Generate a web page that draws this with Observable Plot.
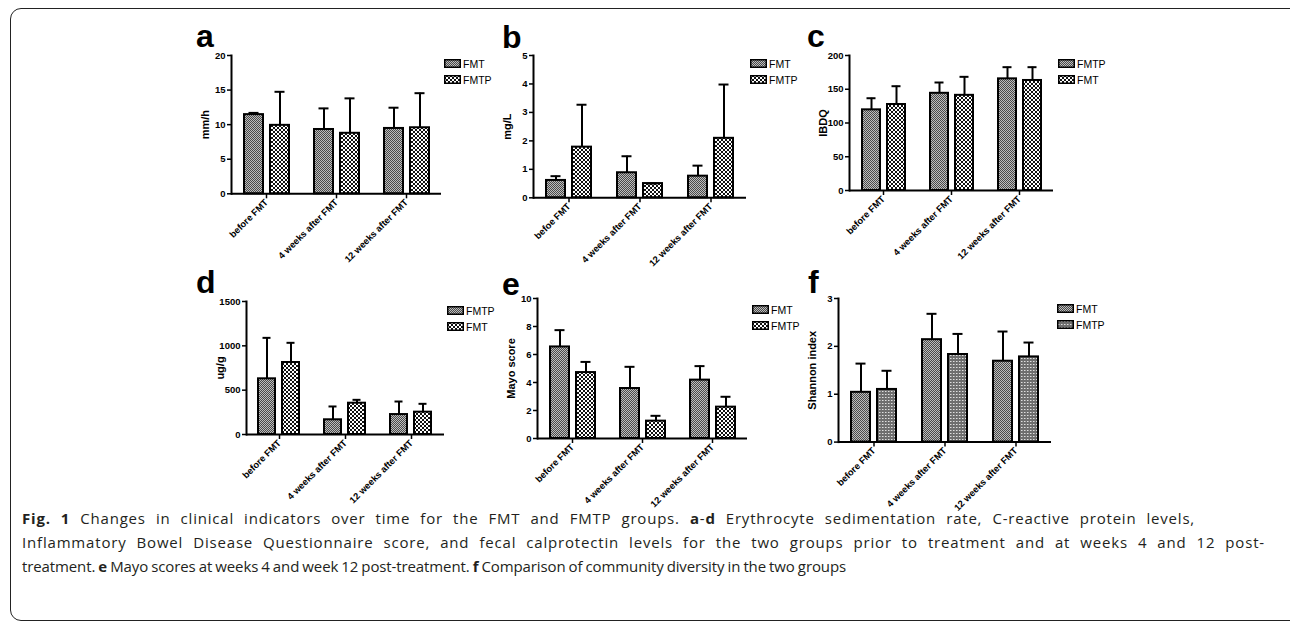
<!DOCTYPE html>
<html><head><meta charset="utf-8">
<script src="https://cdn.jsdelivr.net/npm/d3@7"></script>
<script src="https://cdn.jsdelivr.net/npm/@observablehq/plot@0.6"></script>
<style>
html,body{margin:0;padding:0;background:#fff;}
body{width:1290px;height:622px;overflow:hidden;position:relative;font-family:"Liberation Sans",Arial,sans-serif;}
#frame{position:absolute;left:10px;top:8px;width:1300px;height:613px;border:1.5px solid #222;border-radius:11px;box-sizing:border-box;}
.panel{position:absolute;}
.letter{position:absolute;font:bold 32px "Liberation Sans",Arial,sans-serif;line-height:32px;color:#000;}
.lrow{position:absolute;display:flex;align-items:center;height:9px;font:10.5px "Liberation Sans",Arial,sans-serif;color:#000;white-space:nowrap;}
.lrow svg{margin-right:2px;flex:none;}
#caption{position:absolute;left:22px;top:506px;font-family:"Open Sans",sans-serif;font-size:15px;line-height:24px;color:#231f20;white-space:nowrap;}
#caption div{display:inline-block;}
#caption b{font-weight:700;}
</style></head><body>
<svg width="0" height="0" style="position:absolute">
<defs>
<pattern id="pGray" width="2" height="2" patternUnits="userSpaceOnUse"><rect width="2" height="2" fill="#bdbdbd"/><rect width="1" height="1" fill="#4a4a4a"/><rect x="1" y="1" width="1" height="1" fill="#4a4a4a"/></pattern>
<pattern id="pCheck" width="4" height="4" patternUnits="userSpaceOnUse"><rect width="4" height="4" fill="#111"/><rect width="2" height="2" fill="#fff"/><rect x="2" y="2" width="2" height="2" fill="#fff"/></pattern>
<pattern id="pDot" width="3" height="3" patternUnits="userSpaceOnUse"><rect width="3" height="3" fill="#6e6e6e"/><rect x="1" y="1" width="1.5" height="1" fill="#e0e0e0"/></pattern>
</defs></svg>
<div id="frame"></div>
<div id="root"></div>
<div id="caption">
<div class="cl" data-w="1173"><b>Fig. 1</b> Changes in clinical indicators over time for the FMT and FMTP groups. <b>a</b>-<b>d</b> Erythrocyte sedimentation rate, C-reactive protein levels,</div><br>
<div class="cl" data-w="1243">Inflammatory Bowel Disease Questionnaire score, and fecal calprotectin levels for the two groups prior to treatment and at weeks 4 and 12 post-</div><br>
<div class="cl" data-w="824">treatment. <b>e</b> Mayo scores at weeks 4 and week 12 post-treatment. <b>f</b> Comparison of community diversity in the two groups</div>
</div>
<script>
// ---- data ----
const groups = ["before FMT", "4 weeks after FMT", "12 weeks after FMT"];
const groupsB = ["befoe FMT", "4 weeks after FMT", "12 weeks after FMT"];

// a: ESR (mm/h)
const aSeries = ["FMT", "FMTP"];
const aFMT = [11.45, 9.3, 9.45];
const aFMTsd = [0.25, 3.05, 3.0];
const aFMTP = [9.9, 8.75, 9.55];
const aFMTPsd = [4.85, 5.05, 5.0];
const aTicks = [0, 5, 10, 15, 20];

// b: CRP (mg/L)
const bSeries = ["FMT", "FMTP"];
const bFMT = [0.61, 0.88, 0.76];
const bFMTsd = [0.15, 0.58, 0.37];
const bFMTP = [1.78, 0.5, 2.09];
const bFMTPsd = [1.49, 0, 1.89];
const bTicks = [0, 1, 2, 3, 4, 5];

// c: IBDQ
const cSeries = ["FMTP", "FMT"];
const cFMTP = [119.5, 144, 165.4];
const cFMTPsd = [17.2, 16, 17.3];
const cFMT = [127.4, 141, 163];
const cFMTsd = [27.1, 27.4, 19.7];
const cTicks = [0, 50, 100, 150, 200];

// d: fecal calprotectin (ug/g)
const dSeries = ["FMTP", "FMT"];
const dFMTP = [628, 166, 225];
const dFMTPsd = [462, 150, 147];
const dFMT = [812, 353, 252];
const dFMTsd = [222, 38, 94];
const dTicks = [0, 500, 1000, 1500];

// e: Mayo score
const eSeries = ["FMT", "FMTP"];
const eFMT = [6.54, 3.57, 4.17];
const eFMTsd = [1.2, 1.55, 1.0];
const eFMTP = [4.71, 1.24, 2.24];
const eFMTPsd = [0.76, 0.38, 0.74];
const eTicks = [0, 2, 4, 6, 8, 10];

// f: Shannon index
const fSeries = ["FMT", "FMTP"];
const fFMT = [1.04, 2.14, 1.69];
const fFMTsd = [0.6, 0.54, 0.62];
const fFMTP = [1.10, 1.83, 1.78];
const fFMTPsd = [0.39, 0.43, 0.30];
const fTicks = [0, 1, 2, 3];

// ---- layout / styling ----
const panels = [
  {letter:"a", groups, series:aSeries, means:[aFMT,aFMTP], sds:[aFMTsd,aFMTPsd], fills:["url(#pGray)","url(#pCheck)"], ylabel:"mm/h", ticks:aTicks, x0:231, yTop:55, yBot:193.3, w:210, lx:197, ly:47, gx:444, gy:59},
  {letter:"b", groups:groupsB, series:bSeries, means:[bFMT,bFMTP], sds:[bFMTsd,bFMTPsd], fills:["url(#pGray)","url(#pCheck)"], ylabel:"mg/L", ticks:bTicks, x0:533, yTop:55, yBot:197.3, w:213, lx:503, ly:48, gx:750, gy:59},
  {letter:"c", groups, series:cSeries, means:[cFMTP,cFMT], sds:[cFMTPsd,cFMTsd], fills:["url(#pGray)","url(#pCheck)"], ylabel:"IBDQ", ticks:cTicks, x0:849, yTop:55, yBot:190, w:204, lx:808, ly:47, gx:1058, gy:59},
  {letter:"d", groups, series:dSeries, means:[dFMTP,dFMT], sds:[dFMTPsd,dFMTsd], fills:["url(#pGray)","url(#pCheck)"], ylabel:"ug/g", ticks:dTicks, x0:245, yTop:301, yBot:434, w:200, lx:197, ly:293, gx:447, gy:306},
  {letter:"e", groups, series:eSeries, means:[eFMT,eFMTP], sds:[eFMTsd,eFMTPsd], fills:["url(#pGray)","url(#pCheck)"], ylabel:"Mayo score", ticks:eTicks, x0:537, yTop:298.3, yBot:438.3, w:210, lx:503, ly:295, gx:752, gy:305},
  {letter:"f", groups, series:fSeries, means:[fFMT,fFMTP], sds:[fFMTsd,fFMTPsd], fills:["url(#pGray)","url(#pDot)"], ylabel:"Shannon index", ticks:fTicks, x0:838, yTop:297.7, yBot:441.3, w:213, lx:809, ly:293, gx:1057, gy:304}
];

const root = document.getElementById("root");
const mL = 50, mT = 10, mR = 6, mB = 95;

for (const p of panels) {
  const data = [];
  p.series.forEach((s, i) => p.groups.forEach((g, j) => {
    data.push({group: g, series: s, mean: p.means[i][j], upper: p.means[i][j] + p.sds[i][j]});
  }));
  const h = p.yBot - p.yTop;
  const chart = Plot.plot({
    width: mL + p.w + mR,
    height: mT + h + mB,
    marginLeft: mL, marginTop: mT, marginRight: mR, marginBottom: mB,
    style: {fontFamily: "'Liberation Sans', Arial, sans-serif", fontSize: "9.5px", color: "#000", background: "transparent", overflow: "visible"},
    fx: {domain: p.groups, padding: 0, label: null},
    x: {domain: p.series, paddingInner: 0.28, paddingOuter: 0.48, axis: null},
    y: {domain: [0, p.ticks[p.ticks.length - 1]], axis: null},
    color: {domain: p.series, range: p.fills},
    marks: [
      Plot.barY(data, {fx: "group", x: "series", y: "mean", fill: "series", stroke: "#000", strokeWidth: 2}),
      Plot.ruleX(data, {fx: "group", x: "series", y1: "mean", y2: "upper", stroke: "#000", strokeWidth: 2}),
      Plot.tickY(data, {fx: "group", x: "series", y: "upper", stroke: "#000", strokeWidth: 2, inset: 4.5}),
      Plot.ruleY([0], {stroke: "#000", strokeWidth: 2}),
      Plot.frame({anchor: "left", facetAnchor: "left", stroke: "#000", strokeWidth: 2}),
      Plot.axisY({ticks: p.ticks, tickSize: 4, tickPadding: 2, tickFormat: d => String(d), strokeWidth: 1.5, fontWeight: "bold", label: null}),
      Plot.axisY({ticks: [], tickSize: 0, fontWeight: "bold", fontSize: 11, label: p.ylabel, labelAnchor: "center", labelArrow: "none", labelOffset: 30}),
      Plot.axisFx({anchor: "bottom", tickSize: 5, strokeWidth: 1.5, tickRotate: -45, tickPadding: 2, fontWeight: "bold", fontSize: 9.3, label: null})
    ]
  });
  const wrap = document.createElement("div");
  wrap.className = "panel";
  wrap.style.left = (p.x0 - mL) + "px";
  wrap.style.top = (p.yTop - mT) + "px";
  wrap.appendChild(chart);
  root.appendChild(wrap);

  const L = document.createElement("div");
  L.className = "letter";
  L.textContent = p.letter;
  L.style.left = (p.lx - 1) + "px";
  L.style.top = (p.ly - 27) + "px";
  root.appendChild(L);

  p.series.forEach((s, i) => {
    const row = document.createElement("div");
    row.className = "lrow";
    row.style.left = p.gx + "px";
    row.style.top = (p.gy + i * 16.3) + "px";
    row.innerHTML = `<svg width="17" height="9"><rect x="0.75" y="0.75" width="15.5" height="7.5" fill="${p.fills[i]}" stroke="#000" stroke-width="1.5"/></svg><span>${s}</span>`;
    root.appendChild(row);
  });
}

// fit each caption line to the width it has in the reference (justified text)
for (const el of document.querySelectorAll("#caption .cl")) {
  const target = +el.dataset.w;
  const natural = el.getBoundingClientRect().width;
  const extra = target - natural;
  const chars = el.textContent.length;
  const spaces = (el.textContent.match(/ /g) || []).length;
  el.style.letterSpacing = (extra * 0.5 / chars) + "px";
  el.style.wordSpacing = (extra * 0.5 / spaces) + "px";
}
</script>
</body></html>
